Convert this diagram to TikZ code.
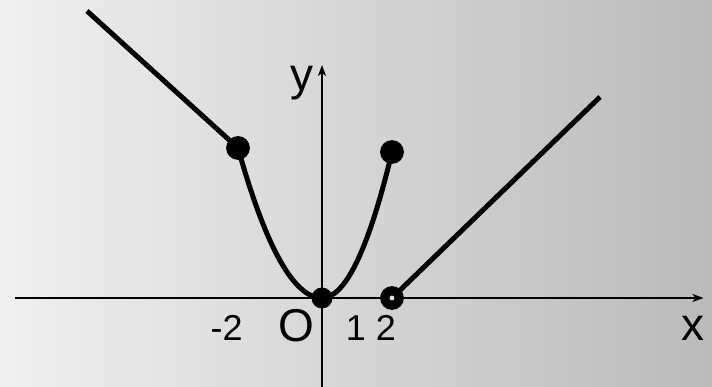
\documentclass[tikz,border=0pt]{standalone}
\usepackage{fontspec}
\setmainfont{Liberation Sans}
\usetikzlibrary{arrows.meta}

\tikzset{
  asse/.style={line width=1.7pt, -{Stealth[length=11pt,width=8pt,inset=3pt]}},
  grafico/.style={line width=5pt},
  lettera/.style={font=\fontsize{46}{46}\selectfont, inner sep=0pt, anchor=base},
  numero/.style={font=\fontsize{36}{36}\selectfont, inner sep=0pt, anchor=base}
}

\begin{document}
\begin{tikzpicture}[x=35pt,y=35pt]
    % sfondo
    \shade[left color=black!6, middle color=black!8, right color=black!27]
      (-9.2,-2.543) rectangle (11.143,8.514);
    \useasboundingbox (-9.2,-2.543) rectangle (11.143,8.514);

    % punti
    \coordinate (O) at (0,0);
    \coordinate (A) at (-2.4,4.286);
    \coordinate (B) at (2,4.171);
    \coordinate (C) at (2,0);
    \coordinate (P) at (-6.714,8.2);
    \coordinate (Q) at (7.943,5.743);
    \coordinate (xs) at (-8.771,0);
    \coordinate (xe) at (10.9,0);
    \coordinate (ys) at (0,-2.6);
    \coordinate (ye) at (0,6.657);

    % assi
    \draw[asse] (xs) -- (xe);
    \draw[asse] (ys) -- (ye);

    % grafico
    \draw[grafico] (P) -- (A);
    \draw[grafico] (A) .. controls (-1.6,1.429) and (-0.8,0) .. (O)
                       .. controls (0.667,0) and (1.333,1.39) .. (B);
    \draw[grafico] (C) -- (Q);

    % punti marcati
    \fill (A) circle (0.34);
    \fill (B) circle (0.34);
    \fill (O) circle (0.3);
    \fill (C) circle (0.34);
    \fill[black!12] (C) circle (0.07);

    % etichette
    \node[lettera] (ylab) at (-0.571,5.914) {y};
    \node[lettera] (olab) at (-0.743,-1.249) {O};
    \node[lettera] (xlab) at (10.6,-1.22) {x};
    \node[numero] (meno2) at (-2.723,-1.22) {-2};
    \node[numero] (uno2) at (1.4,-1.22) {1 2};
\end{tikzpicture}
\end{document}
